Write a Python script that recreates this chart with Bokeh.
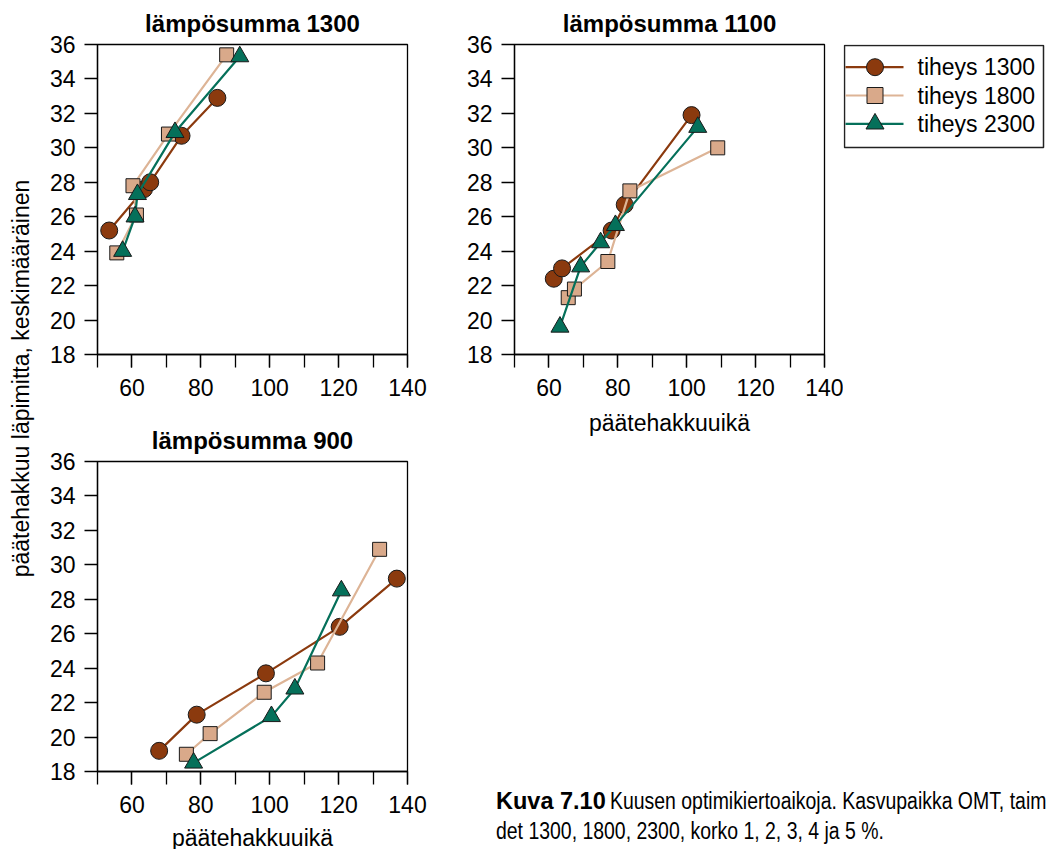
import math
from bokeh.plotting import figure
from bokeh.layouts import row, column
from bokeh.models import Range1d, FixedTicker, Label, Div
from bokeh.core.properties import value
from bokeh.embed import file_html
from bokeh.resources import INLINE

# --- data: optimal rotation age (päätehakkuuikä) and mean final-cut diameter, korko 1..5 % ---
densities = ["tiheys 1300", "tiheys 1800", "tiheys 2300"]

# lämpösumma 1300
ls1300_t1300_age = [53.4, 63.5, 65.3, 74.4, 84.8]
ls1300_t1300_d = [25.2, 27.6, 28.0, 30.7, 32.9]
ls1300_t1800_age = [55.6, 61.3, 60.3, 70.6, 87.5]
ls1300_t1800_d = [23.9, 26.1, 27.8, 30.8, 35.4]
ls1300_t2300_age = [57.3, 60.9, 61.6, 72.5, 91.3]
ls1300_t2300_d = [24.0, 26.0, 27.3, 30.9, 35.3]

# lämpösumma 1100
ls1100_t1300_age = [61.4, 63.8, 78.2, 82.0, 101.4]
ls1100_t1300_d = [22.4, 23.0, 25.2, 26.7, 31.9]
ls1100_t1800_age = [65.6, 67.4, 77.1, 83.5, 109.0]
ls1100_t1800_d = [21.3, 21.8, 23.4, 27.5, 30.0]
ls1100_t2300_age = [63.2, 69.2, 75.0, 79.3, 103.2]
ls1100_t2300_d = [19.6, 23.1, 24.5, 25.5, 31.2]

# lämpösumma 900
ls900_t1300_age = [67.9, 78.8, 98.9, 120.3, 136.9]
ls900_t1300_d = [19.2, 21.3, 23.7, 26.4, 29.2]
ls900_t1800_age = [75.8, 82.7, 98.4, 113.9, 131.9]
ls900_t1800_d = [19.0, 20.2, 22.6, 24.3, 30.9]
ls900_t2300_age = [77.9, 100.5, 107.3, 120.8]
ls900_t2300_d = [18.5, 21.2, 22.8, 28.5]

x_major_ticks = [60, 80, 100, 120, 140]
x_minor_ticks = [50, 60, 70, 80, 90, 100, 110, 120, 130, 140]
y_ticks = [18, 20, 22, 24, 26, 28, 30, 32, 34, 36]

FONT = "Liberation Sans"
XLABEL = "päätehakkuuikä"

STYLES = [
    dict(marker="circle", size=17, fill="#8B3A0E", line="#8B3A0E"),
    dict(marker="square", size=14, fill="#D9A98A", line="#DDB496"),
    dict(marker="triangle", size=18, fill="#05705A", line="#05705A"),
]
OUTLINE = "#1a1a1a"


def make_panel(title, series, width, height, left, right, top, bottom,
               title_standoff, xlabel=None):
    p = figure(width=width, height=height, x_range=Range1d(50, 140), y_range=Range1d(18, 36),
               output_backend="svg", toolbar_location=None,
               min_border_left=left, min_border_right=right,
               min_border_top=top, min_border_bottom=bottom)
    p.title.text = title
    p.title.text_font = FONT
    p.title.text_font_size = "24px"
    p.title.text_font_style = "bold"
    p.title.text_color = "black"
    p.title.align = "center"
    p.title.standoff = title_standoff

    p.xgrid.visible = False
    p.ygrid.visible = False
    p.outline_line_color = "black"
    p.outline_line_width = 1.3
    p.outline_line_alpha = 1.0
    p.background_fill_color = "white"
    p.border_fill_color = "white"

    p.xaxis.ticker = FixedTicker(ticks=x_major_ticks, minor_ticks=x_minor_ticks)
    p.yaxis.ticker = FixedTicker(ticks=y_ticks, minor_ticks=[])
    for ax in (p.xaxis[0], p.yaxis[0]):
        ax.axis_line_color = "black"
        ax.axis_line_width = 1.3
        ax.major_tick_line_color = "black"
        ax.major_tick_line_width = 1.3
        ax.minor_tick_line_color = "black"
        ax.minor_tick_line_width = 1.3
        ax.major_tick_in = 0
        ax.major_tick_out = 13
        ax.minor_tick_in = 0
        ax.minor_tick_out = 13
        ax.major_label_text_font = FONT
        ax.major_label_text_font_size = "23px"
        ax.major_label_text_color = "black"
    p.xaxis.major_label_standoff = 11
    p.yaxis.major_label_standoff = 9
    if xlabel:
        p.xaxis.axis_label = xlabel
        p.xaxis.axis_label_text_font = FONT
        p.xaxis.axis_label_text_font_size = "23px"
        p.xaxis.axis_label_text_font_style = "normal"
        p.xaxis.axis_label_text_color = "black"
        p.xaxis.axis_label_standoff = 11

    for (xs, ys), st in zip(series, STYLES):
        p.line(xs, ys, line_color=st["line"], line_width=2.2)
        p.scatter(xs, ys, marker=st["marker"], size=st["size"], fill_color=st["fill"],
                  line_color=OUTLINE, line_width=1)
    return p


p1 = make_panel("lämpösumma 1300",
                [(ls1300_t1300_age, ls1300_t1300_d),
                 (ls1300_t1800_age, ls1300_t1800_d),
                 (ls1300_t2300_age, ls1300_t2300_d)],
                width=391, height=404, left=61, right=20, top=44, bottom=50,
                title_standoff=15)

p2 = make_panel("lämpösumma 1100",
                [(ls1100_t1300_age, ls1100_t1300_d),
                 (ls1100_t1800_age, ls1100_t1800_d),
                 (ls1100_t2300_age, ls1100_t2300_d)],
                width=416, height=444, left=87, right=19, top=44, bottom=90,
                title_standoff=15, xlabel=XLABEL)

p3 = make_panel("lämpösumma 900",
                [(ls900_t1300_age, ls900_t1300_d),
                 (ls900_t1800_age, ls900_t1800_d),
                 (ls900_t2300_age, ls900_t2300_d)],
                width=391, height=417, left=61, right=20, top=57, bottom=50,
                title_standoff=16)

# x-axis title under the 900 panel, on its own strip sharing the panel's x scale
xl3 = figure(width=391, height=28, x_range=Range1d(50, 140), y_range=Range1d(28, 0),
             x_axis_type=None, y_axis_type=None, output_backend="svg", toolbar_location=None,
             min_border_left=61, min_border_right=20, min_border_top=0, min_border_bottom=0,
             outline_line_color=None)
xl3.grid.visible = False
xl3.add_layout(Label(x=95, y=16, text=XLABEL, text_align="center", text_baseline="alphabetic",
                     text_font=FONT, text_font_size="23px", text_color="black"))

# key for the three planting densities, right of the 1100 panel
# (this strip uses page-pixel coordinates: x from 843 to 1047, y from 44 down to 354)
legfig = figure(width=204, height=444, x_range=Range1d(843, 1047), y_range=Range1d(354, 44),
                x_axis_type=None, y_axis_type=None, output_backend="svg", toolbar_location=None,
                min_border_left=0, min_border_right=0, min_border_top=44, min_border_bottom=90,
                outline_line_color=None)
legfig.grid.visible = False
key_box = dict(left=844, right=1043, top=45, bottom=147)
key_rows = [66.7, 95.0, 123.3]
key_line = (845, 903)
key_text_x = 917
legfig.quad(left=[key_box["left"]], right=[key_box["right"]], top=[key_box["top"]],
            bottom=[key_box["bottom"]], fill_color="white", line_color="#222222", line_width=1.5)
for yc, st in zip(key_rows, STYLES):
    legfig.segment(x0=[key_line[0]], y0=[yc], x1=[key_line[1]], y1=[yc],
                   line_color=st["line"], line_width=2.2)
    legfig.scatter(x=[(key_line[0] + key_line[1]) / 2 + 0.5], y=[yc], marker=st["marker"],
                   size=st["size"] + (2 if st["marker"] == "square" else 0),
                   fill_color=st["fill"], line_color=OUTLINE, line_width=1)
legfig.text(x=[key_text_x] * len(densities), y=key_rows, text=densities,
            text_font=value(FONT), text_font_size=value("23px"), text_color="black",
            text_baseline="middle", text_align="left")

# shared y-axis title
ylab = figure(width=36, height=849, x_range=Range1d(0, 36), y_range=Range1d(849, 0),
              x_axis_type=None, y_axis_type=None, output_backend="svg", toolbar_location=None,
              min_border=0, outline_line_color=None)
ylab.grid.visible = False
ylab.add_layout(Label(x=20, y=378, text="päätehakkuu läpimitta, keskimääräinen",
                      angle=math.pi / 2, text_align="center", text_baseline="middle",
                      text_font=FONT, text_font_size="23px", text_color="black"))

# figure caption (body text set in a narrowed face)
narrow = "display:inline-block;transform:scaleX(0.827);transform-origin:0 0;"
caption_html = (
    '<div style="margin-top:337px;margin-left:64px;width:550px;overflow:hidden;'
    'white-space:nowrap;font-family:\'Liberation Sans\';font-size:23.5px;'
    'line-height:30px;color:black;">'
    '<b>Kuva 7.10</b><span style="margin-left:4px;' + narrow + '">'
    'Kuusen optimikiertoaikoja. Kasvupaikka OMT, taim</span><br>'
    '<span style="' + narrow + '">det 1300, 1800, 2300, korko 1, 2, 3, 4 ja 5 %.</span>'
    '</div>'
)
cap = Div(text=caption_html, width=620, height=405)

layout = row(ylab, column(p1, p3, xl3), column(row(p2, legfig), cap))

open("out.html", "w").write(file_html(layout, INLINE))
